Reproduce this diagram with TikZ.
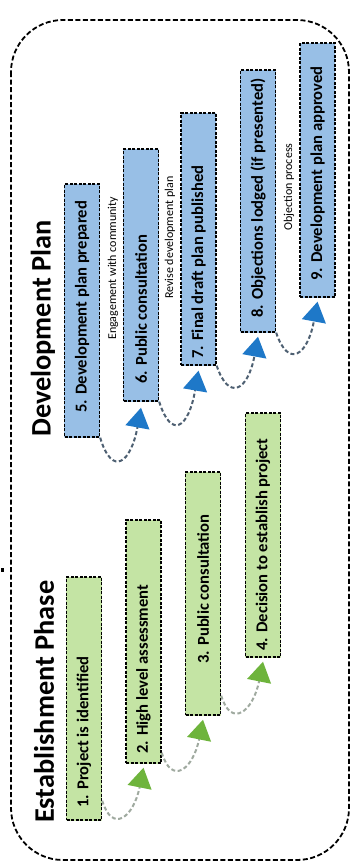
\documentclass[tikz,border=0pt]{standalone}
\usepackage{fontspec}
\setmainfont{Carlito}
\usetikzlibrary{arrows.meta}
\definecolor{bluefillA}{HTML}{98BFE6}
\definecolor{bluefillB}{HTML}{BCD6EF}
\definecolor{greenfillA}{HTML}{C4E4A4}
\definecolor{greenfillB}{HTML}{DCEFC4}
\definecolor{bluearrow}{HTML}{1E78C8}
\definecolor{greenarrow}{HTML}{6EB43C}
\definecolor{blueline}{HTML}{4E6072}
\definecolor{greenline}{HTML}{A0AAA0}
\tikzset{
  stagebox/.style={draw=black, line width=1.4pt, dash pattern=on 3pt off 1.5pt, inner sep=0pt, minimum width=35pt},
  bluebox/.style={stagebox, left color=bluefillA, middle color=bluefillB, right color=bluefillA},
  greenbox/.style={stagebox, left color=greenfillA, middle color=greenfillB, right color=greenfillA},
  boxtext/.style={inner sep=0pt, anchor=south, font=\fontsize{16.6}{18}\selectfont\bfseries},
  labeltext/.style={inner sep=0pt, anchor=south, font=\fontsize{12}{14}\selectfont},
  titletext/.style={inner sep=0pt, anchor=south, font=\fontsize{28.3}{32}\selectfont\bfseries},
  blueconn/.style={draw=blueline, line width=2pt, dash pattern=on 4pt off 2.5pt,
    -{Triangle[length=20pt,width=24pt,color=bluearrow]}},
  greenconn/.style={draw=greenline, line width=2pt, dash pattern=on 4pt off 2.5pt,
    -{Triangle[length=20pt,width=24pt,color=greenarrow]}},
  framebox/.style={draw=black, line width=1.8pt, dash pattern=on 5pt off 2.5pt, rounded corners=52pt}
}
\begin{document}
\begin{tikzpicture}[x=1pt,y=-1pt]
\useasboundingbox (0,0) rectangle (352,865);
\fill[white] (0,0) rectangle (352,865);
% outer frame
\draw[framebox] (11,20) rectangle (349,860);
\fill[black] (1,568) rectangle (4,572);
% titles
\node[titletext] (tEst) at (44,823) {\rotatebox{90}{Establishment Phase}};
\node[titletext] (tDev) at (43,437) {\rotatebox{90}{Development Plan}};
% green boxes
\node[greenbox, minimum height=243pt] (b1) at (84,698.5) {};
\node[greenbox, minimum height=243pt] (b2) at (143.5,641.5) {};
\node[greenbox, minimum height=243pt] (b3) at (203,593.5) {};
\node[greenbox, minimum height=244pt] (b4) at (263,535) {};
% blue boxes
\node[bluebox, minimum height=253pt] (b5) at (82,310.5) {};
\node[bluebox, minimum height=252pt] (b6) at (141,275) {};
\node[bluebox, minimum height=252pt] (b7) at (198.5,239) {};
\node[bluebox, minimum height=262pt] (b8) at (258,201) {};
\node[bluebox, minimum height=254pt] (b9) at (317.5,170) {};
% box texts
\node[boxtext] (x1) at ([yshift=13pt]b1.south) {\rotatebox{90}{1. Project is identified}};
\node[boxtext] (x2) at ([yshift=10pt]b2.south) {\rotatebox{90}{2. High level assessment}};
\node[boxtext] (x3) at ([yshift=52pt]b3.south) {\rotatebox{90}{3. Public consultation}};
\node[boxtext] (x4) at ([yshift=7pt]b4.south) {\rotatebox{90}{4. Decision to establish project}};
\node[boxtext] (x5) at ([yshift=25pt]b5.south) {\rotatebox{90}{5. Development plan prepared}};
\node[boxtext] (x6) at ([yshift=18pt]b6.south) {\rotatebox{90}{6. Public consultation}};
\node[boxtext] (x7) at ([yshift=7pt]b7.south) {\rotatebox{90}{7. Final draft plan published}};
\node[boxtext] (x8) at ([yshift=15pt]b8.south) {\rotatebox{90}{8. Objections lodged (if presented)}};
\node[boxtext] (x9) at ([yshift=17pt]b9.south) {\rotatebox{90}{9. Development plan approved}};
% small labels
\node[labeltext] (l1) at (113,340) {\rotatebox{90}{Engagement with community}};
\node[labeltext] (l2) at (170,299) {\rotatebox{90}{Revise development plan}};
\node[labeltext] (l3) at (289,231) {\rotatebox{90}{Objection process}};
% green connectors
\draw[greenconn] ([yshift=20pt]b1.south east) .. controls +(10,33) and +(-10,50) .. ([yshift=-4pt]b2.south);
\draw[greenconn] ([yshift=11pt]b2.south east) .. controls +(10,33) and +(-10,50) .. ([yshift=-4pt]b3.south);
\draw[greenconn] ([yshift=20pt]b3.south east) .. controls +(10,33) and +(-10,50) .. ([yshift=-4pt]b4.south);
% blue connectors
\draw[blueconn] (b5.south east) .. controls +(12,40) and +(-10,55) .. ([yshift=-6pt]b6.south);
\draw[blueconn] (b6.south east) .. controls +(12,38) and +(-10,58) .. ([yshift=-5pt]b7.south);
\draw[blueconn] (b7.south east) .. controls +(12,36) and +(-10,54) .. ([yshift=-4pt]b8.south);
\draw[blueconn] (b8.south east) .. controls +(12,36) and +(-10,54) .. ([yshift=-4pt]b9.south);
\end{tikzpicture}
\end{document}
